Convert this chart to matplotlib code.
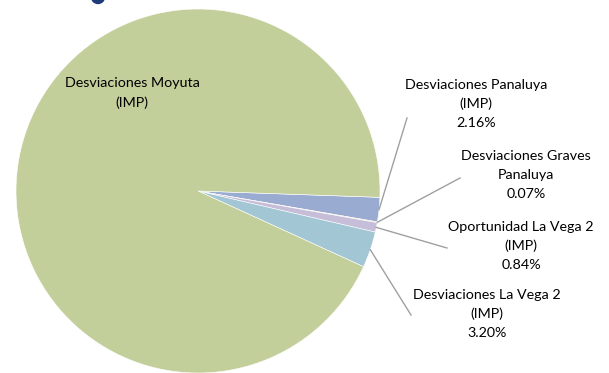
import numpy as np
import matplotlib
matplotlib.use('Agg')
import matplotlib.pyplot as plt
from matplotlib.patches import Circle

# =====================
# DATA
# =====================
labels = [
    "Desviaciones Panaluya\n(IMP)",
    "Desviaciones Graves\nPanaluya",
    "Oportunidad La Vega 2\n(IMP)",
    "Desviaciones La Vega 2\n(IMP)",
    "Desviaciones Moyuta\n(IMP)",
]
values = [2.16, 0.07, 0.84, 3.20, 93.73]
show_pct = [True, True, True, True, False]
colors = ['#9aabd1', '#f2c28e', '#c6bdd8', '#a2c6d4', '#c3cf9b']

# label centres and leader line ends (figure pixels, y from top)
text_pos = [(476, 104), (526, 175), (521, 246), (487, 314), (132, 93)]
line_end = [(407, 118), (460, 178), (447, 248), (411, 315), None]

W, H = 609, 373
plt.rcParams['font.family'] = ['Lato', 'DejaVu Sans']

fig = plt.figure(figsize=(W / 100, H / 100), dpi=100)
ax = fig.add_axes([0, 0, 1, 1])

cx, cy, r = 198, H - 191, 182

wedges, _ = ax.pie(values, colors=colors, startangle=-2, counterclock=False,
                   center=(cx, cy), radius=r, frame=True,
                   wedgeprops=dict(edgecolor='white', linewidth=0.4))
ax.set_xlim(0, W)
ax.set_ylim(0, H)
ax.set_aspect('equal')
ax.axis('off')

for w, lab, v, pct, tp, le in zip(wedges, labels, values, show_pct, text_pos, line_end):
    txt = lab + ("\n%.2f%%" % v if pct else "")
    ax.text(tp[0], H - tp[1], txt, ha='center', va='center', fontsize=10.3,
            color='black', linespacing=1.65)
    if le is not None:
        a = np.deg2rad((w.theta1 + w.theta2) / 2)
        x0, y0 = cx + r * np.cos(a), cy + r * np.sin(a)
        ax.plot([x0, le[0]], [y0, H - le[1]], color='#a0a0a0', lw=1.0)

# partly visible marker at the top edge
ax.add_patch(Circle((98, H + 3), 6.5, color='#1f3a7a', clip_on=False))

plt.savefig('out.png', dpi=100)
